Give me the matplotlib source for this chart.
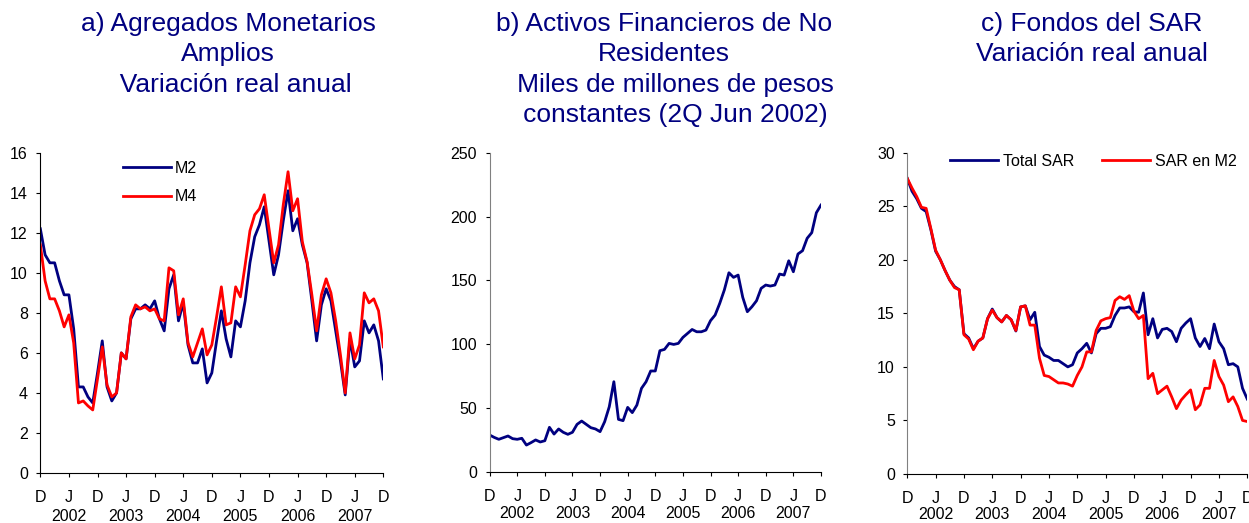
import numpy as np
import matplotlib.pyplot as plt

plt.rcParams['font.family'] = ['Liberation Sans', 'DejaVu Sans']

NAVY = '#000080'
RED = '#FF0000'

# monthly, Dec 2001 .. Dec 2007 (73 points)
months = np.arange(73)
tick_pos = np.arange(0, 73, 6)
tick_lab = ['D', 'J'] * 6 + ['D']
year_pos = np.arange(6, 73, 12)
years = ['2002', '2003', '2004', '2005', '2006', '2007']

# a) Agregados monetarios amplios, variacion real anual
m2 = [12.2, 10.9, 10.5, 10.5, 9.6, 8.9, 8.9, 7.2, 4.3, 4.3, 3.8, 3.5, 5.0,
      6.6, 4.3, 3.6, 4.0, 6.0, 5.7, 7.7, 8.2, 8.2, 8.4, 8.2, 8.6,
      7.7, 7.1, 9.2, 9.9, 7.6, 8.5, 6.4, 5.5, 5.5, 6.2, 4.5, 5.0,
      6.6, 8.1, 6.7, 5.8, 7.6, 7.3, 8.6, 10.5, 11.8, 12.4, 13.3, 11.6,
      9.9, 10.9, 12.6, 14.1, 12.1, 12.7, 11.4, 10.5, 8.6, 6.6, 8.4, 9.2,
      8.6, 7.1, 5.6, 3.9, 6.7, 5.3, 5.6, 7.6, 7.0, 7.4, 6.6, 4.7]
m4 = [11.4, 9.6, 8.7, 8.7, 8.1, 7.3, 7.9, 6.5, 3.5, 3.6, 3.35, 3.15, 4.7,
      6.3, 4.4, 3.8, 4.0, 6.0, 5.7, 7.8, 8.4, 8.2, 8.3, 8.1, 8.2,
      7.7, 7.6, 10.25, 10.1, 7.9, 8.7, 6.5, 5.8, 6.5, 7.2, 5.9, 6.4,
      7.8, 9.3, 7.4, 7.5, 9.3, 8.8, 10.4, 12.1, 12.9, 13.2, 13.9, 12.2,
      10.5, 11.4, 13.4, 15.05, 13.1, 13.7, 11.55, 10.55, 8.9, 7.1, 8.9, 9.7,
      9.0, 7.6, 5.9, 4.0, 7.0, 5.7, 6.4, 9.0, 8.5, 8.7, 8.1, 6.3]

# b) Activos financieros de no residentes, miles de millones de pesos
anr = [29.0, 27.1, 25.6, 26.9, 28.2, 26.1, 25.6, 26.4, 21.1, 23.0, 25.1, 23.5, 24.5,
       35.0, 29.7, 33.7, 31.1, 29.5, 31.1, 37.3, 39.9, 37.3, 34.7, 33.7, 31.6,
       39.4, 51.1, 70.7, 41.2, 40.2, 50.6, 46.5, 52.4, 65.5, 70.7, 79.1, 79.1,
       95.0, 96.0, 100.7, 99.9, 100.7, 105.4, 108.5, 111.6, 109.8, 109.8, 111.1, 118.5,
       122.9, 132.0, 142.5, 156.0, 152.4, 154.2, 136.8, 125.5, 129.4, 134.1, 143.8, 146.4,
       145.6, 146.4, 155.0, 154.2, 165.4, 156.8, 170.7, 173.3, 183.0, 187.4, 203.0, 209.0]

# c) Fondos del SAR, variacion real anual
sar_total = [27.6, 26.4, 25.7, 24.8, 24.5, 22.8, 20.8, 20.0, 19.0, 18.1, 17.5, 17.2, 13.1,
             12.7, 11.7, 12.4, 12.7, 14.5, 15.4, 14.6, 14.2, 14.8, 14.4, 13.35, 15.6,
             15.7, 14.4, 15.1, 11.9, 11.1, 10.9, 10.6, 10.6, 10.3, 10.0, 10.2, 11.3,
             11.7, 12.2, 11.3, 13.1, 13.6, 13.6, 13.75, 14.8, 15.5, 15.5, 15.6, 15.15,
             15.1, 16.9, 13.0, 14.5, 12.7, 13.5, 13.6, 13.3, 12.35, 13.6, 14.1, 14.5,
             12.7, 11.9, 12.65, 11.7, 14.0, 12.35, 11.7, 10.2, 10.3, 10.0, 8.0, 7.0]
sar_m2 = [27.6, 26.7, 25.9, 24.9, 24.8, 22.9, 20.9, 20.0, 19.0, 18.1, 17.4, 17.2, 13.0,
          12.6, 11.6, 12.4, 12.7, 14.5, 15.3, 14.6, 14.2, 14.8, 14.4, 13.4, 15.6,
          15.7, 13.9, 13.9, 10.8, 9.2, 9.1, 8.8, 8.5, 8.5, 8.4, 8.2, 9.2,
          10.0, 11.4, 11.4, 13.4, 14.3, 14.5, 14.6, 16.2, 16.55, 16.3, 16.65, 15.2,
          14.5, 14.8, 8.9, 9.4, 7.5, 7.85, 8.2, 7.2, 6.1, 6.9, 7.4, 7.85,
          6.0, 6.45, 8.0, 8.0, 10.6, 9.1, 8.3, 6.75, 7.2, 6.3, 5.0, 4.9]

FS = 11.5
fig = plt.figure(figsize=(12.49, 5.23), dpi=100)


def setup(ax, ymax, ystep, left_color, year_off):
    ax.set_xlim(0, 72)
    ax.set_ylim(0, ymax)
    ax.set_yticks(np.arange(0, ymax + 0.1, ystep))
    ax.set_xticks(tick_pos)
    ax.set_xticklabels(tick_lab)
    for s in ['top', 'right']:
        ax.spines[s].set_visible(False)
    ax.spines['left'].set_color(left_color)
    ax.spines['bottom'].set_color('black')
    ax.tick_params(axis='x', direction='out', length=3, width=0.8, pad=9,
                   labelsize=FS, colors='black')
    ax.tick_params(axis='y', direction='out', length=3, width=0.8, pad=6,
                   labelsize=FS, colors='black')
    for p, yr in zip(year_pos, years):
        ax.annotate(yr, xy=(p, 0), xycoords=('data', 'axes fraction'),
                    xytext=(0, -year_off), textcoords='offset points',
                    ha='center', va='center', fontsize=FS)


# panel a
ax1 = fig.add_axes([0.0323, 0.0956, 0.2746, 0.6124])
ax1.plot(months, m2, color=NAVY, lw=2.0, label='M2')
ax1.plot(months, m4, color=RED, lw=2.0, label='M4')
setup(ax1, 16, 2, 'black', 31)
ax1.legend(loc='upper left', bbox_to_anchor=(0.241, 0.975), borderaxespad=0,
           borderpad=0, handlelength=3.0, handletextpad=0.25, labelspacing=0.85,
           frameon=False, fontsize=FS)

# panel b
ax2 = fig.add_axes([0.392, 0.0975, 0.2653, 0.6105])
ax2.plot(months, anr, color=NAVY, lw=2.0)
setup(ax2, 250, 50, '#808080', 30)

# panel c
ax3 = fig.add_axes([0.7264, 0.0937, 0.2722, 0.6144])
ax3.plot(months, sar_total, color=NAVY, lw=2.0, label='Total SAR')
ax3.plot(months, sar_m2, color=RED, lw=2.0, label='SAR en M2')
setup(ax3, 30, 5, '#808080', 29.5)
ax3.legend(loc='upper left', bbox_to_anchor=(0.1255, 0.997), borderaxespad=0,
           borderpad=0, ncol=2, columnspacing=1.75, handlelength=3.0,
           handletextpad=0.3, frameon=False, fontsize=FS)

# titles
title_kw = dict(ha='center', va='top', color=NAVY, fontsize=19,
                linespacing=1.33, multialignment='center')
fig.text(228 / 1249, 0.977,
         'a) Agregados Monetarios\nAmplios\n  Variación real anual', **title_kw)
fig.text(664 / 1249, 0.977,
         'b) Activos Financieros de No\nResidentes\n   Miles de millones de pesos\n   constantes (2Q Jun 2002)',
         **title_kw)
fig.text(1092 / 1249, 0.977, 'c) Fondos del SAR\nVariación real anual', **title_kw)

fig.savefig('out.png', dpi=100)
